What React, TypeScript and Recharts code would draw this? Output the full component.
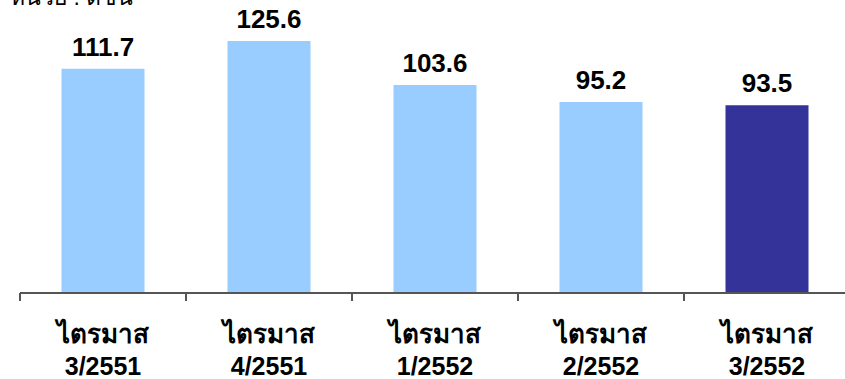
import React from 'react';
import { BarChart, Bar, XAxis, YAxis, Cell, LabelList } from 'recharts';

const quarters = ['ไตรมาส\n3/2551', 'ไตรมาส\n4/2551', 'ไตรมาส\n1/2552', 'ไตรมาส\n2/2552', 'ไตรมาส\n3/2552'];
const values = [111.7, 125.6, 103.6, 95.2, 93.5];
const barColors = ['#99CCFF', '#99CCFF', '#99CCFF', '#99CCFF', '#333399'];
const unitLabel = 'หน่วย : ดัชนี';

const data = quarters.map((q, i) => ({ quarter: q, value: values[i] }));

const FONT = "Tahoma, 'Liberation Sans', Arial, sans-serif";
const BAND = 166;

const QuarterTick = ({ x, y, payload }: any) => {
  const lines = String(payload.value).split('\n');
  return (
    <g>
      <line x1={x - BAND / 2} x2={x - BAND / 2} y1={y - 8} y2={y} stroke="#555" strokeWidth={2} />
      {lines.map((line, i) => (
        <text
          key={i}
          x={x}
          y={y + 42 + i * 32}
          textAnchor="middle"
          fontFamily={FONT}
          fontWeight="bold"
          fontSize={i === 0 ? 26 : 25}
          fill="#000"
        >
          {line}
        </text>
      ))}
    </g>
  );
};

export default function App() {
  return (
    <div style={{ position: 'absolute', left: 0, top: 0, width: 845, height: 379, overflow: 'hidden', background: '#fff' }}>
      <div style={{ position: 'absolute', left: 10, top: -21, fontFamily: FONT, fontSize: 23, whiteSpace: 'nowrap' }}>
        {unitLabel}
      </div>
      <BarChart
        width={852}
        height={379}
        data={data}
        margin={{ top: 0, right: 2, left: 20, bottom: 0 }}
        barCategoryGap="25%"
      >
        <YAxis hide domain={[0, 146]} />
        <XAxis
          dataKey="quarter"
          axisLine={{ stroke: '#555', strokeWidth: 2 }}
          tickLine={false}
          tick={<QuarterTick />}
          interval={0}
          height={86}
        />
        <Bar dataKey="value" isAnimationActive={false}>
          {data.map((d, i) => (
            <Cell key={i} fill={barColors[i]} />
          ))}
          <LabelList
            dataKey="value"
            position="top"
            offset={13}
            fontFamily={FONT}
            fontWeight="bold"
            fontSize={26}
            fill="#000"
            formatter={(v: any) => Number(v).toFixed(1)}
          />
        </Bar>
      </BarChart>
    </div>
  );
}
